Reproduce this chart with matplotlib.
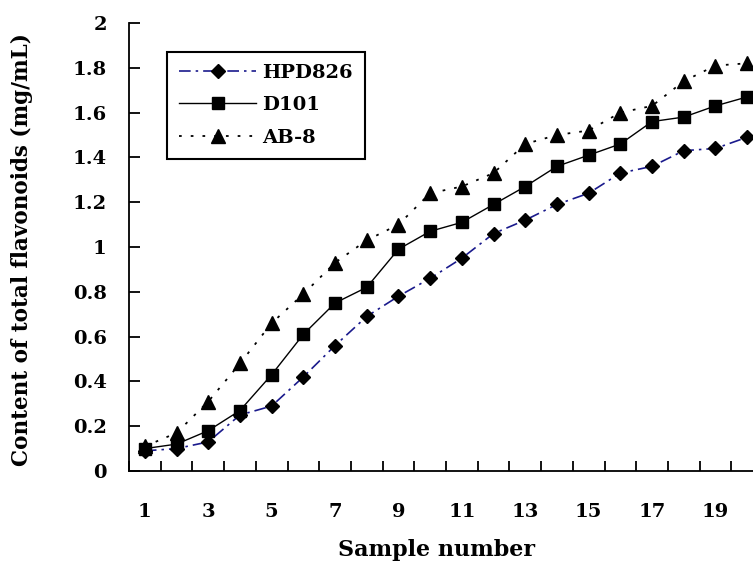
import numpy as np
import matplotlib.pyplot as plt

samples = np.arange(1, 21)
hpd826 = [0.09, 0.10, 0.13, 0.25, 0.29, 0.42, 0.56, 0.69, 0.78, 0.86,
          0.95, 1.06, 1.12, 1.19, 1.24, 1.33, 1.36, 1.43, 1.44, 1.49]
d101 = [0.10, 0.12, 0.18, 0.27, 0.43, 0.61, 0.75, 0.82, 0.99, 1.07,
        1.11, 1.19, 1.27, 1.36, 1.41, 1.46, 1.56, 1.58, 1.63, 1.67]
ab8 = [0.11, 0.17, 0.31, 0.48, 0.66, 0.79, 0.93, 1.03, 1.10, 1.24,
       1.27, 1.33, 1.46, 1.50, 1.52, 1.60, 1.63, 1.74, 1.81, 1.82]
xlabels = [str(i) for i in range(1, 21, 2)]
yticks = np.round(np.arange(0, 2.01, 0.2), 1)

plt.rcParams['font.family'] = 'DejaVu Serif'
plt.rcParams['font.weight'] = 'bold'
fs = 14

fig = plt.figure(figsize=(7.53, 5.69), dpi=100)
ax = fig.add_axes([129/753, 98/569, 634/753, 448/569])

ax.plot(samples, hpd826, color='#1a1a8c', linestyle=(0, (7, 3, 1.5, 3)), lw=1.2,
        marker='D', markersize=7.5, markerfacecolor='black', markeredgecolor='black',
        label='HPD826')
ax.plot(samples, d101, color='black', linestyle='-', lw=1.0,
        marker='s', markersize=9, markerfacecolor='black', markeredgecolor='black',
        label='D101')
ax.plot(samples, ab8, color='black', linestyle=(0, (1.5, 5)), lw=1.3,
        marker='^', markersize=9.5, markerfacecolor='black', markeredgecolor='black',
        label='AB-8')

ax.set_xlim(0.5, 20.5)
ax.set_ylim(0, 2)
ax.spines['top'].set_visible(False)
ax.spines['right'].set_visible(False)
ax.spines['left'].set_linewidth(1.3)
ax.spines['bottom'].set_linewidth(1.3)

ax.set_xticks(np.arange(0.5, 21, 1))
ax.set_xticklabels([])
ax.tick_params(axis='x', which='major', direction='in', length=7, width=1.3)
ax.set_xticks(np.arange(1, 21, 2), minor=True)
ax.set_xticklabels(xlabels, minor=True, fontsize=fs, fontweight='bold')
ax.tick_params(axis='x', which='minor', length=0, pad=23)

ax.set_yticks(yticks)
ax.set_yticklabels(['%g' % v for v in yticks], fontsize=fs, fontweight='bold')
ax.tick_params(axis='y', direction='in', length=8, width=1.3, pad=16)

ax.set_xlabel('Sample number', fontsize=16, fontweight='bold')
ax.xaxis.set_label_coords((437 - 129) / 634, -0.152)
fig.text(22/753, 1 - 250/569, 'Content of total flavonoids (mg/mL)', rotation=90,
         ha='center', va='center', fontsize=15.5, fontweight='bold')

leg = ax.legend(loc='upper left', bbox_to_anchor=(167/753, 1 - 52/569),
                bbox_transform=fig.transFigure, fancybox=False, framealpha=1,
                edgecolor='black', fontsize=fs, handlelength=4, handletextpad=0.3,
                labelspacing=0.75, borderpad=0.6, borderaxespad=0)
leg.get_frame().set_linewidth(1.5)
for t in leg.get_texts():
    t.set_fontweight('bold')

fig.savefig('out.png', dpi=100)
